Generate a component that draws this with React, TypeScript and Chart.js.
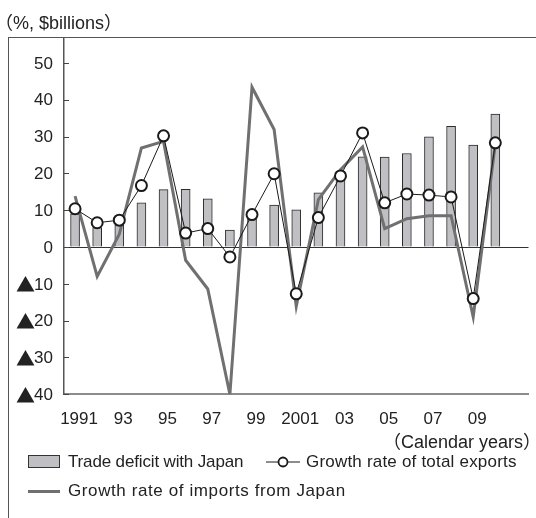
import React, { useEffect, useRef } from "react";
import { Chart, registerables } from "chart.js";

Chart.register(...registerables);

// Categories: 1991–2010 plus one empty trailing slot (2011) so the axes run to the right edge
const years = [
  "1991", "1992", "1993", "1994", "1995", "1996", "1997", "1998", "1999", "2000",
  "2001", "2002", "2003", "2004", "2005", "2006", "2007", "2008", "2009", "2010", "2011",
];
const xTickLabels = [
  "1991", "", "93", "", "95", "", "97", "", "99", "",
  "2001", "", "03", "", "05", "", "07", "", "09", "", "",
];
const yTickValues = [-40, -30, -20, -10, 0, 10, 20, 30, 40, 50];

// Trade deficit with Japan ($billions)
const tradeDeficit = [
  9.0, 5.3, 6.0, 12.0, 15.6, 15.7, 13.1, 4.6, 7.7, 11.4,
  10.1, 14.7, 18.5, 24.5, 24.4, 25.4, 29.9, 32.8, 27.7, 36.1,
];
// Growth rate of total exports (%)
const exportGrowth = [
  10.4, 6.6, 7.3, 16.7, 30.2, 3.8, 5.0, -2.7, 8.8, 19.9,
  -12.7, 8.0, 19.3, 31.0, 12.0, 14.4, 14.1, 13.6, -14.0, 28.3,
];
// Growth rate of imports from Japan (%)
const importGrowth = [
  13.8, -8.0, 3.5, 26.9, 28.7, -3.6, -11.4, -40.0, 43.4, 31.9,
  -16.1, 12.9, 21.0, 27.2, 5.0, 7.7, 8.5, 8.5, -19.0, 28.0,
];

const LATIN = '"Liberation Sans", Arial, sans-serif';
const CJK = '"Noto Sans CJK JP", "Noto Sans CJK SC", sans-serif';
const TEXT = "#222";
const FS = 17;

// inward tick marks on the y axis + y labels (▲ drawn with the CJK font for a full-width triangle)
const yAxisDecor = {
  id: "yAxisDecor",
  afterDraw(chart: any) {
    const y = chart.scales.y;
    const ctx = chart.ctx;
    const left = chart.chartArea.left;
    ctx.save();
    ctx.strokeStyle = "#444";
    ctx.lineWidth = 1;
    y.ticks.forEach((t: any) => {
      const py = Math.round(y.getPixelForValue(t.value)) + 0.5;
      ctx.beginPath();
      ctx.moveTo(left, py);
      ctx.lineTo(left + 5, py);
      ctx.stroke();
    });
    ctx.fillStyle = TEXT;
    ctx.textAlign = "right";
    ctx.textBaseline = "middle";
    const xr = left - 11;
    y.ticks.forEach((t: any) => {
      const v = t.value;
      const py = y.getPixelForValue(v);
      const digits = String(Math.abs(v));
      ctx.font = `${FS}px ${LATIN}`;
      ctx.fillText(digits, xr, py + 1);
      if (v < 0) {
        const w = ctx.measureText(digits).width;
        ctx.font = `19px ${CJK}`;
        ctx.fillText("▲", xr - w + 1, py + 1);
      }
    });
    ctx.restore();
  },
};

export default function App() {
  const ref = useRef<HTMLCanvasElement>(null);

  useEffect(() => {
    const font = { family: LATIN, size: FS };
    const chart = new Chart(ref.current as HTMLCanvasElement, {
      type: "bar",
      data: {
        labels: years,
        datasets: [
          {
            type: "bar",
            label: "Trade deficit with Japan",
            data: tradeDeficit,
            backgroundColor: "#c0c0c4",
            borderColor: "#2a2a2a",
            borderWidth: 1,
            barThickness: 9,
            order: 3,
          },
          {
            type: "line",
            label: "Growth rate of imports from Japan",
            data: importGrowth,
            borderColor: "#707070",
            borderWidth: 3,
            pointRadius: 0,
            tension: 0,
            order: 2,
          },
          {
            type: "line",
            label: "Growth rate of total exports",
            data: exportGrowth,
            borderColor: "#1a1a1a",
            borderWidth: 1,
            pointRadius: 5.5,
            pointBackgroundColor: "#fff",
            pointBorderColor: "#1a1a1a",
            pointBorderWidth: 2,
            tension: 0,
            order: 1,
          },
        ] as any,
      },
      options: {
        animation: false,
        responsive: false,
        devicePixelRatio: 1,
        layout: { padding: { top: 39, left: 0, right: 0, bottom: 93.7 } },
        plugins: { legend: { display: false }, tooltip: { enabled: false } },
        scales: {
          x: {
            type: "category",
            offset: true,
            grid: { display: false, drawTicks: false },
            border: { display: true, color: "#8c8c8c", width: 2 },
            ticks: {
              autoSkip: false,
              maxRotation: 0,
              padding: 15,
              labelOffset: 4,
              color: TEXT,
              font,
              callback: (_v: any, i: number) => xTickLabels[i],
            },
            afterFit: (s: any) => {
              s.height = 30;
            },
          },
          y: {
            min: -40,
            max: 56.5,
            afterBuildTicks: (s: any) => {
              s.ticks = yTickValues.map((v) => ({ value: v }));
            },
            grid: {
              drawTicks: false,
              lineWidth: 1,
              color: (c: any) => (c.tick && c.tick.value === 0 ? "#333" : "rgba(0,0,0,0)"),
            },
            border: { display: true, color: "#555", width: 1.5 },
            ticks: { display: false },
            afterFit: (s: any) => {
              s.width = 64;
            },
          },
        },
      } as any,
      plugins: [yAxisDecor],
    });
    return () => chart.destroy();
  }, []);

  const txt = { position: "absolute" as const, fontSize: FS, lineHeight: "20px", whiteSpace: "nowrap" as const };
  const paren = { fontFamily: CJK };

  return (
    <div
      style={{
        position: "fixed",
        left: 0,
        top: 0,
        width: 536,
        height: 518,
        overflow: "hidden",
        background: "#fff",
        fontFamily: LATIN,
        color: TEXT,
      }}
    >
      <div
        style={{
          position: "absolute",
          left: 8,
          top: 37,
          width: 700,
          height: 700,
          border: "1.5px solid #555",
          boxSizing: "border-box",
        }}
      />
      <canvas
        ref={ref}
        width={536}
        height={518}
        style={{ position: "absolute", left: 0, top: 0, width: 536, height: 518 }}
      />
      <div style={{ ...txt, fontSize: 18, left: -5, top: 11 }}>
        <span style={paren}>（</span>%, $billions<span style={paren}>）</span>
      </div>
      <div style={{ ...txt, fontSize: 18, right: -5, top: 430 }}>
        <span style={paren}>（</span>Calendar years<span style={paren}>）</span>
      </div>

      {/* Legend row 1 */}
      <div
        style={{
          position: "absolute",
          left: 28,
          top: 455,
          width: 32,
          height: 13,
          background: "#c0c0c4",
          border: "1px solid #333",
          boxSizing: "border-box",
        }}
      />
      <div style={{ ...txt, left: 68, top: 452, letterSpacing: "-0.15px" }}>Trade deficit with Japan</div>
      <svg style={{ position: "absolute", left: 264, top: 454 }} width={38} height={16}>
        <line x1={2} y1={8} x2={36} y2={8} stroke="#1a1a1a" strokeWidth={1} />
        <circle cx={19} cy={8} r={4.5} fill="#fff" stroke="#1a1a1a" strokeWidth={1.8} />
      </svg>
      <div style={{ ...txt, left: 306, top: 452, letterSpacing: "0.2px" }}>Growth rate of total exports</div>

      {/* Legend row 2 */}
      <div
        style={{ position: "absolute", left: 28, top: 489.5, width: 32, height: 3, background: "#707070" }}
      />
      <div style={{ ...txt, left: 68, top: 481, letterSpacing: "0.6px" }}>Growth rate of imports from Japan</div>
    </div>
  );
}
